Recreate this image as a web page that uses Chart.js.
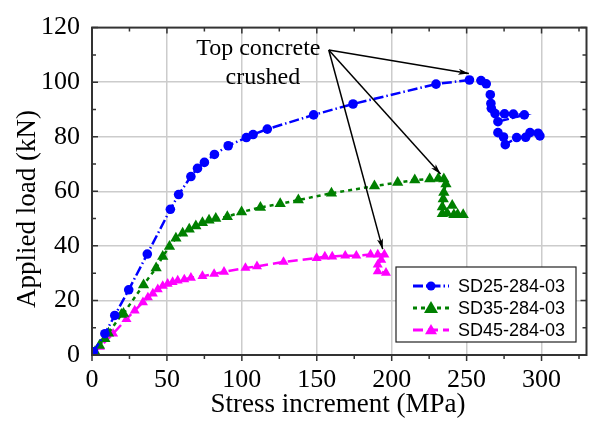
<!DOCTYPE html>
<html>
<head>
<meta charset="utf-8">
<script src="https://cdn.jsdelivr.net/npm/chart.js@4.4.1/dist/chart.umd.min.js"></script>
<style>
  html, body { margin: 0; padding: 0; background: #fff; }
</style>
</head>
<body>
<canvas id="chart" width="593" height="427"></canvas>
<script>
// SD25-284-03 (blue circles)
const sd25Stress = [0.9, 8.6, 15.2, 24.5, 36.9, 52.3, 57.8, 66, 70.4, 75, 81.7, 90.9, 103, 107.5, 117, 147.9, 174.2, 229.6, 251.9,
  259.6, 263.1, 265.8, 266.2, 266.5, 269, 275.3, 281.2, 288.5, 270.9, 270.9, 274.6, 275.8, 283.4, 289.4, 292.3, 297.7, 298.9];
const sd25Load = [1.2, 7.8, 14.5, 23.9, 37, 53.4, 58.8, 65.4, 68.4, 70.6, 73.5, 76.7, 79.7, 80.8, 82.8, 88, 92, 99.3, 100.8,
  100.6, 99.4, 95.4, 92.2, 90.4, 88.5, 88.4, 88.3, 88, 85.5, 81.5, 79.9, 77.1, 79.7, 79.8, 81.5, 81.3, 80.3];

// SD35-284-03 (green triangles)
const sd35Stress = [2, 5, 8.6, 11, 19.6, 21, 34.4, 42.8, 47.2, 51.7, 56, 60.5, 64.9, 69.3, 73.7, 78.1, 82.6, 90.3, 99.8, 112.4,
  125.6, 137.7, 159.8, 188.5, 204, 215.4, 225.4, 231.1, 234.8, 236.2, 234.8, 234.4, 233.8, 233.8, 237, 240.4, 241.5, 244, 247.7];
const sd35Load = [1.2, 3.5, 6, 8, 14.8, 15.2, 25.7, 31.9, 36.1, 39.8, 42.8, 44.6, 46.1, 47.3, 48.5, 49.4, 50, 50.7, 52.4, 54.1,
  55.4, 56.8, 59.3, 61.9, 63.2, 64.1, 64.5, 64.7, 64.5, 62.7, 59.6, 57.2, 54.2, 51.8, 52, 54.8, 51.4, 51.5, 51.4];

// SD45-284-03 (magenta triangles)
const sd45Stress = [0.9, 5.3, 14.1, 23, 28.5, 34, 37.3, 40.6, 43.9, 47.2, 50.5, 53.8, 57.2, 61.6, 66, 73.7, 81.5, 88.1, 102.4,
  110.1, 127.8, 149.9, 155.4, 160.3, 169, 176.4, 185.9, 190.7, 195.1, 193, 190.7, 190.7, 196.2];
const sd45Load = [0.4, 3, 7.8, 13.2, 16.3, 19.3, 21.1, 22.5, 24.1, 25.3, 26.1, 26.7, 27.3, 27.7, 28.3, 28.9, 29.7, 30.5, 31.9,
  32.5, 34.1, 35.5, 36.1, 36.1, 36.4, 36.4, 36.8, 36.8, 36.8, 34.9, 33.1, 30.7, 30.1];

const seriesNames = ['SD25-284-03', 'SD35-284-03', 'SD45-284-03'];
const xTitle = 'Stress increment (MPa)';
const yTitle = 'Applied load (kN)';

// annotation (data coordinates)
const noteLines = ['Top concrete', 'crushed'];
const noteAnchors = [[111, 112.2], [114, 101.8]];
const arrowFrom = [158, 111.8];
const arrowTargets = [[251.5, 103.2], [232.6, 66.3], [194, 38.8]];

const toPoints = (xs, ys) => xs.map((x, i) => ({ x: x, y: ys[i] }));

const styles = [
  { color: '#0000ff', point: 'circle', radius: 4.8, dash: [10, 3, 1.5, 3] },
  { color: '#008000', point: 'triangle', radius: 6.5, dash: [4, 4] },
  { color: '#ff00ff', point: 'triangle', radius: 5.8, dash: [10, 5] },
];
const dataSets = [
  toPoints(sd25Stress, sd25Load),
  toPoints(sd35Stress, sd35Load),
  toPoints(sd45Stress, sd45Load),
];

const serif = '"Liberation Serif", "Times New Roman", serif';
const sans = '"Liberation Sans", Arial, sans-serif';

const framePlugin = {
  id: 'frame',
  afterDraw(chart) {
    const { ctx, chartArea: a, scales: { x, y } } = chart;
    ctx.save();
    // frame
    ctx.strokeStyle = '#333';
    ctx.lineWidth = 2;
    ctx.strokeRect(a.left, a.top, a.right - a.left, a.bottom - a.top);
    ctx.lineWidth = 1.5;
    ctx.beginPath();
    for (let v = 0; v <= 330; v += 25) {
      const px = x.getPixelForValue(v);
      const len = v % 50 === 0 ? 6 : 4;
      ctx.moveTo(px, a.bottom); ctx.lineTo(px, a.bottom + len);
      ctx.moveTo(px, a.top); ctx.lineTo(px, a.top + len);
    }
    for (let v = 0; v <= 120; v += 10) {
      const py = y.getPixelForValue(v);
      const len = v % 20 === 0 ? 6 : 4;
      ctx.moveTo(a.left, py); ctx.lineTo(a.left + len, py);
      ctx.moveTo(a.right, py); ctx.lineTo(a.right - len, py);
    }
    ctx.stroke();

    // axis titles
    ctx.fillStyle = '#000';
    ctx.font = '27px ' + serif;
    ctx.textAlign = 'center';
    ctx.textBaseline = 'middle';
    ctx.fillText(xTitle, 338, 405);
    ctx.save();
    ctx.translate(28, 209);
    ctx.rotate(-Math.PI / 2);
    ctx.fillText(yTitle, 0, 0);
    ctx.restore();

    // annotation
    ctx.font = '24px ' + serif;
    noteLines.forEach((t, i) => {
      ctx.fillText(t, x.getPixelForValue(noteAnchors[i][0]), y.getPixelForValue(noteAnchors[i][1]));
    });
    const fx = x.getPixelForValue(arrowFrom[0]);
    const fy = y.getPixelForValue(arrowFrom[1]);
    ctx.strokeStyle = '#000';
    ctx.lineWidth = 1.5;
    arrowTargets.forEach(([tx0, ty0]) => {
      const tx = x.getPixelForValue(tx0);
      const ty = y.getPixelForValue(ty0);
      const ang = Math.atan2(ty - fy, tx - fx);
      ctx.beginPath();
      ctx.moveTo(fx, fy);
      ctx.lineTo(tx, ty);
      ctx.stroke();
      ctx.beginPath();
      ctx.moveTo(tx, ty);
      ctx.lineTo(tx - 11 * Math.cos(ang - 0.28), ty - 11 * Math.sin(ang - 0.28));
      ctx.lineTo(tx - 8 * Math.cos(ang), ty - 8 * Math.sin(ang));
      ctx.lineTo(tx - 11 * Math.cos(ang + 0.28), ty - 11 * Math.sin(ang + 0.28));
      ctx.closePath();
      ctx.fill();
    });

    // legend
    const bx = 396, by = 267, bw = 180, bh = 75;
    ctx.fillStyle = '#fff';
    ctx.fillRect(bx, by, bw, bh);
    ctx.strokeStyle = '#222';
    ctx.lineWidth = 1.2;
    ctx.strokeRect(bx, by, bw, bh);
    ctx.font = '18px ' + sans;
    ctx.textAlign = 'left';
    chart.data.datasets.forEach((ds, i) => {
      const ly = by + 19 + i * 22;
      ctx.strokeStyle = ds.borderColor;
      ctx.lineWidth = 3;
      ctx.setLineDash(ds.borderDash);
      ctx.beginPath();
      ctx.moveTo(413, ly); ctx.lineTo(449, ly);
      ctx.stroke();
      ctx.setLineDash([]);
      ctx.fillStyle = ds.borderColor;
      ctx.beginPath();
      if (ds.pointStyle === 'circle') {
        ctx.arc(431, ly, 4.5, 0, Math.PI * 2);
      } else {
        const r = i === 1 ? 7 : 6;
        ctx.moveTo(431, ly - r); ctx.lineTo(431 + r, ly + r * 0.7); ctx.lineTo(431 - r, ly + r * 0.7);
        ctx.closePath();
      }
      ctx.fill();
      ctx.fillStyle = '#000';
      ctx.fillText(ds.label, 458, ly + 1);
    });
    ctx.restore();
  },
};

new Chart(document.getElementById('chart'), {
  type: 'scatter',
  data: {
    datasets: dataSets.map((d, i) => ({
      label: seriesNames[i],
      data: d,
      showLine: true,
      borderColor: styles[i].color,
      backgroundColor: styles[i].color,
      borderWidth: 2.5,
      borderDash: styles[i].dash,
      pointStyle: styles[i].point,
      pointRadius: styles[i].radius,
      pointBorderWidth: 0,
      tension: 0,
    })),
  },
  options: {
    responsive: false,
    animation: false,
    layout: { padding: { top: 23, right: 4, left: 0, bottom: 0 } },
    plugins: {
      legend: { display: false },
      tooltip: { enabled: false },
    },
    scales: {
      x: {
        type: 'linear',
        min: 0,
        max: 330,
        afterFit: s => { s.height = 72; },
        ticks: {
          stepSize: 50,
          includeBounds: false,
          color: '#000',
          font: { family: serif, size: 26 },
          padding: 10,
          maxRotation: 0,
        },
        grid: {
          drawTicks: false,
          color: c => (c.tick.value > 0 ? '#cccccc' : 'rgba(0,0,0,0)'),
          lineWidth: 1.5,
        },
        border: { display: false },
      },
      y: {
        type: 'linear',
        min: 0,
        max: 120,
        afterFit: s => { s.width = 92; },
        ticks: {
          stepSize: 20,
          color: '#000',
          font: { family: serif, size: 26 },
          padding: 12,
        },
        grid: {
          drawTicks: false,
          color: c => (c.tick.value > 0 && c.tick.value < 120 ? '#cccccc' : 'rgba(0,0,0,0)'),
          lineWidth: 1.5,
        },
        border: { display: false },
      },
    },
  },
  plugins: [framePlugin],
});
</script>
</body>
</html>
